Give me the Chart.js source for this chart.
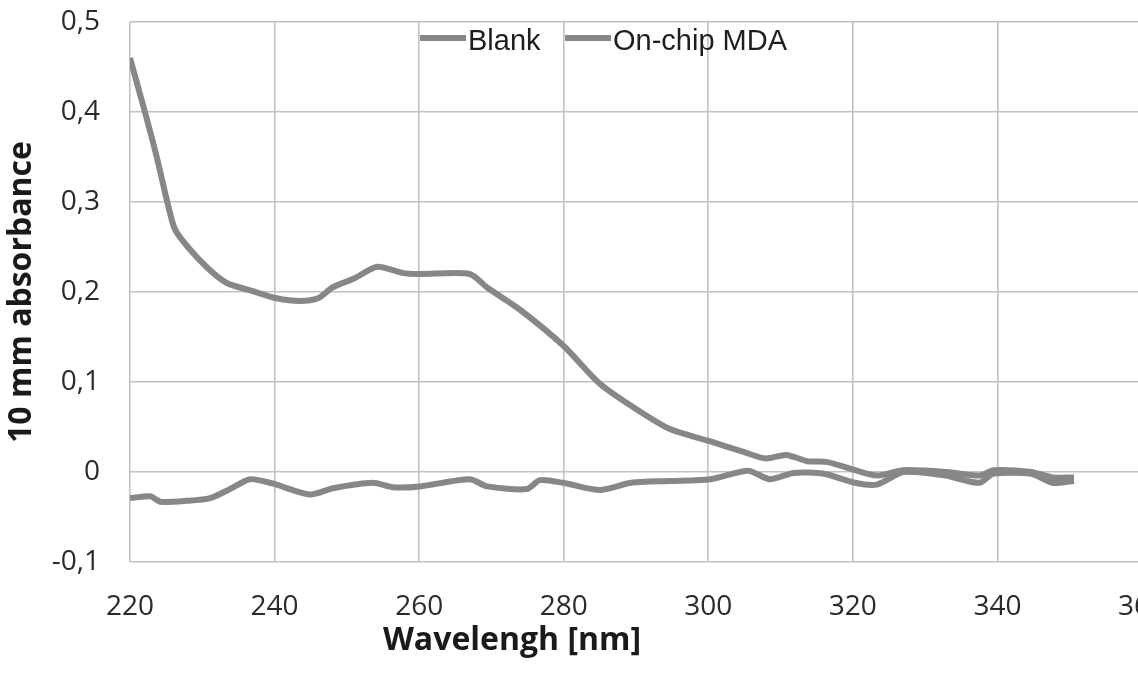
<!DOCTYPE html>
<html>
<head>
<meta charset="utf-8">
<script src="https://cdn.jsdelivr.net/npm/chart.js@4.4.1/dist/chart.umd.min.js"></script>
<style>
  html, body { margin: 0; padding: 0; background: #fff; overflow: hidden; }
  #wrap { width: 1160px; height: 675px; }
</style>
</head>
<body>
<div id="wrap"><canvas id="chart" width="1160" height="675"></canvas></div>
<script>
// values
const xTicks = [220, 240, 260, 280, 300, 320, 340, 360];
const yTickLabels = ['-0,1', '0', '0,1', '0,2', '0,3', '0,4', '0,5'];
const seriesNames = ['Blank', 'On-chip MDA'];

const blankWl = [220, 222, 223.7, 225.1, 226.2, 228, 230.7, 233.4, 237, 240.3, 243.5, 246, 248, 251, 254.2, 257.8, 260, 267, 269.4, 274, 280, 285, 289.8, 294.6, 300.3, 305, 308, 310.8, 313.7, 316.5, 320.3, 323.3, 327, 333, 337.5, 339.5, 344.7, 347.6, 350.6];
const blankAbs = [0.46, 0.402, 0.35, 0.302, 0.27, 0.25, 0.227, 0.21, 0.201, 0.193, 0.19, 0.193, 0.205, 0.215, 0.228, 0.221, 0.22, 0.22, 0.205, 0.18, 0.14, 0.098, 0.071, 0.048, 0.034, 0.022, 0.015, 0.019, 0.012, 0.011, 0.002, -0.004, 0.002, 0.0, -0.004, 0.002, 0.0, -0.006, -0.006];

const mdaWl = [220, 222.8, 224.2, 227.9, 231.1, 233.8, 236.6, 239.8, 244.9, 248.1, 253.6, 256.4, 260.1, 267, 269.4, 274.9, 276.7, 279.9, 285, 289.3, 294.6, 300.3, 305.5, 308.5, 311.8, 316, 320.3, 323.3, 327, 332.8, 337.5, 339.4, 344.7, 347.6, 350.6];
const mdaAbs = [-0.029, -0.027, -0.033, -0.032, -0.029, -0.019, -0.008, -0.013, -0.025, -0.018, -0.012, -0.017, -0.016, -0.008, -0.016, -0.019, -0.009, -0.012, -0.02, -0.012, -0.01, -0.008, 0.0015, -0.008, -0.001, -0.002, -0.012, -0.014, 0.0, -0.004, -0.012, -0.002, -0.002, -0.012, -0.01];

const lineColor = '#878787';
const gridColor = '#c2c2c2';
const toPts = (xs, ys) => xs.map((x, i) => ({ x, y: ys[i] }));

// legend + axis titles sit where the scan put them, so draw them by hand
const overlay = {
  id: 'overlay',
  afterDraw(chart) {
    const ctx = chart.ctx;
    ctx.save();
    // legend
    const legendAt = [420, 565];
    ctx.font = '29px "Liberation Sans", Arial, sans-serif';
    ctx.textBaseline = 'middle';
    ctx.textAlign = 'left';
    chart.data.datasets.forEach((ds, i) => {
      const x0 = legendAt[i];
      ctx.strokeStyle = ds.borderColor; ctx.lineWidth = 6; ctx.lineCap = 'butt';
      ctx.beginPath(); ctx.moveTo(x0, 38); ctx.lineTo(x0 + 46, 38); ctx.stroke();
      ctx.fillStyle = '#1e1e1e';
      ctx.fillText(ds.label, x0 + 48, 42);
    });
    // x title
    ctx.font = 'bold 32px "Open Sans", sans-serif';
    ctx.textAlign = 'center';
    ctx.fillStyle = '#1a1a1a';
    ctx.fillText('Wavelengh [nm]', 512, 641);
    // y title
    ctx.translate(22, 292);
    ctx.rotate(-Math.PI / 2);
    ctx.fillText('10 mm absorbance', 0, 0);
    ctx.restore();
  }
};

const noOverhang = s => { s.paddingLeft = 0; s.paddingRight = 0; s.paddingTop = 0; s.paddingBottom = 0; };

new Chart(document.getElementById('chart'), {
  type: 'line',
  data: {
    datasets: [
      { label: seriesNames[0], data: toPts(blankWl, blankAbs), borderColor: lineColor, borderWidth: 6, pointRadius: 0, tension: 0.25, fill: false },
      { label: seriesNames[1], data: toPts(mdaWl, mdaAbs), borderColor: lineColor, borderWidth: 6, pointRadius: 0, tension: 0.25, fill: false }
    ]
  },
  options: {
    responsive: false,
    animation: false,
    devicePixelRatio: 1,
    layout: { padding: { top: 22, right: 18, left: 0, bottom: 0 } },
    plugins: { legend: { display: false }, tooltip: { enabled: false } },
    scales: {
      x: {
        type: 'linear', min: xTicks[0], max: xTicks[xTicks.length - 1],
        afterBuildTicks: s => { s.ticks = xTicks.map(v => ({ value: v })); },
        afterFit: s => { s.height = 113; noOverhang(s); },
        ticks: { font: { family: 'Open Sans', size: 28 }, color: '#2a2a2a', padding: 28, maxRotation: 0 },
        grid: { color: gridColor, lineWidth: 1.6, drawTicks: false },
        border: { display: false }
      },
      y: {
        min: -0.1, max: 0.5,
        ticks: {
          stepSize: 0.1,
          font: { family: 'Open Sans', size: 28 }, color: '#2a2a2a', padding: 30,
          callback: v => yTickLabels[Math.round((v + 0.1) / 0.1)]
        },
        afterFit: s => { s.width = 130; noOverhang(s); },
        grid: { color: gridColor, lineWidth: 1.6, drawTicks: false },
        border: { display: false }
      }
    }
  },
  plugins: [overlay]
});
</script>
</body>
</html>
